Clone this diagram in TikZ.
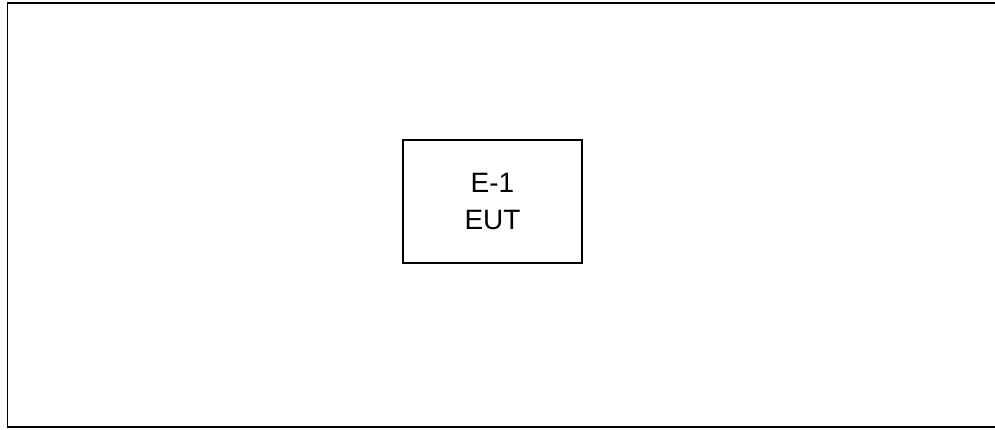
\documentclass[tikz,border=0pt]{standalone}
\usepackage{fontspec}
\setmainfont{Liberation Sans}
\usetikzlibrary{positioning}

\begin{document}
\begin{tikzpicture}[x=1pt,y=1pt]
        \useasboundingbox (0,0) rectangle (995,429);
        % frame, open on the right
        \draw[line width=1.6pt] (995,426) -- (7.5,426) -- (7.5,2) -- (995,2);
        \node[draw,line width=1.2pt,minimum width=179pt,minimum height=123pt,align=center,
          font=\fontsize{28}{37}\selectfont] (eut) at (492.5,227.5) {E-1\\EUT};
      \end{tikzpicture}
\end{document}
